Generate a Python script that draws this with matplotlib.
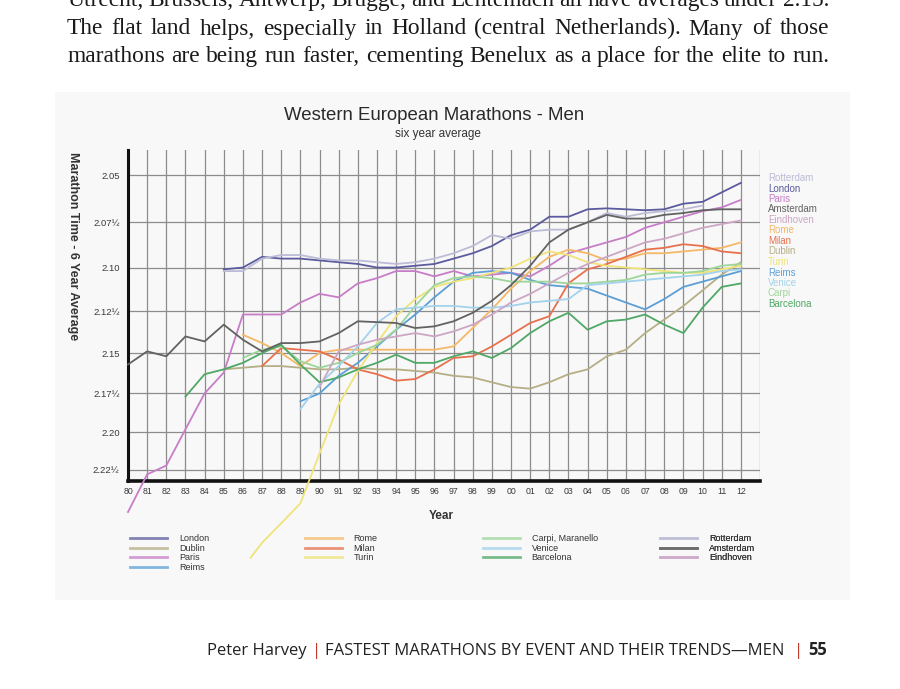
import matplotlib
matplotlib.use("Agg")
import matplotlib.pyplot as plt
from matplotlib import font_manager
from matplotlib.patches import Rectangle

W, H = 900, 689

# six-year average winning times, in minutes (2:10 = 130)
paris_years = list(range(1980, 2013))
paris = [145.4, 142.8, 142.2, 139.8, 137.5, 136.2, 132.7, 132.7, 132.7, 132.0,
         131.5, 131.7, 130.9, 130.6, 130.2, 130.2, 130.5, 130.2, 130.5, 130.4,
         130.3, 130.5, 129.9, 129.2, 128.9, 128.6, 128.3, 127.8, 127.5, 127.2,
         126.9, 126.7, 126.3]

amsterdam_years = list(range(1980, 2013))
amsterdam = [135.7, 134.9, 135.2, 134.0, 134.3, 133.3, 134.2, 134.9, 134.4, 134.4,
             134.3, 133.8, 133.1, 133.15, 133.2, 133.5, 133.4, 133.1, 132.6, 131.9,
             131.0, 129.9, 128.6, 127.9, 127.5, 127.1, 127.3, 127.3, 127.1, 127.0,
             126.85, 126.8, 126.8]

london_years = list(range(1985, 2013))
london = [130.1, 130.0, 129.4, 129.5, 129.5, 129.6, 129.7, 129.8, 130.0, 130.0,
          129.9, 129.8, 129.5, 129.2, 128.8, 128.2, 127.9, 127.2, 127.2, 126.8,
          126.75, 126.8, 126.85, 126.8, 126.5, 126.4, 125.9, 125.4]

rotterdam_years = list(range(1985, 2011))
rotterdam = [130.2, 130.2, 129.5, 129.3, 129.3, 129.5, 129.6, 129.6, 129.7, 129.8,
             129.7, 129.5, 129.2, 128.8, 128.2, 128.4, 128.0, 127.9, 127.9, 127.5,
             127.0, 127.2, 127.0, 126.9, 126.8, 126.6]

eindhoven_years = list(range(1990, 2013))
eindhoven = [137.1, 134.9, 134.5, 134.2, 134.0, 133.8, 134.0, 133.7, 133.3, 132.7,
             132.0, 131.5, 130.9, 130.3, 129.8, 129.4, 129.0, 128.6, 128.4, 128.1,
             127.8, 127.6, 127.4]

dublin_years = list(range(1985, 2013))
dublin = [136.0, 135.9, 135.8, 135.8, 135.9, 136.0, 136.0, 135.9, 136.0, 136.0,
          136.1, 136.2, 136.4, 136.5, 136.8, 137.1, 137.2, 136.8, 136.3, 136.0,
          135.2, 134.8, 133.8, 133.0, 132.2, 131.3, 130.4, 129.7]

milan_years = list(range(1987, 2013))
milan = [135.8, 134.7, 134.8, 134.9, 135.4, 136.0, 136.3, 136.7, 136.6, 136.0,
         135.3, 135.2, 134.6, 133.9, 133.2, 132.8, 130.9, 130.1, 129.8, 129.4,
         129.0, 128.9, 128.7, 128.8, 129.1, 129.2]

rome_years = list(range(1986, 2013))
rome = [133.9, 134.4, 135.0, 135.8, 135.0, 134.8, 134.8, 134.8, 134.8, 134.8,
        134.8, 134.6, 133.5, 132.4, 131.2, 130.2, 129.4, 129.0, 129.2, 129.6,
        129.5, 129.2, 129.2, 129.1, 129.0, 128.9, 128.6]

turin_years = [1986.4] + list(range(1987, 2013))
turin = [148.7, 147.6, 146.2, 144.8, 141.4, 138.2, 136.1, 134.4, 132.8, 131.8,
         131.1, 130.8, 130.6, 130.3, 130.0, 129.5, 129.1, 129.3, 129.7, 129.9,
         130.0, 130.1, 130.2, 130.3, 130.3, 130.1, 129.9]

reims_years = list(range(1989, 2013))
reims = [138.0, 137.5, 136.4, 135.6, 134.6, 133.6, 132.7, 131.7, 130.8, 130.3,
         130.2, 130.3, 130.7, 131.0, 131.1, 131.2, 131.6, 132.0, 132.4, 131.8,
         131.1, 130.8, 130.5, 130.2]

venice_years = list(range(1989, 2013))
venice = [138.5, 136.9, 135.8, 134.6, 133.2, 132.4, 132.3, 132.2, 132.2, 132.3,
          132.3, 132.2, 132.0, 131.9, 131.8, 131.0, 130.9, 130.8, 130.7, 130.6,
          130.5, 130.4, 130.2, 130.1]

carpi_years = list(range(1986, 2013))
carpi = [135.3, 134.8, 134.6, 135.5, 135.9, 135.6, 135.0, 134.5, 133.6, 132.2,
         131.0, 130.6, 130.5, 130.6, 130.8, 130.8, 130.8, 130.9, 130.9, 130.8,
         130.7, 130.4, 130.3, 130.3, 130.2, 129.9, 129.8]

barcelona_years = list(range(1983, 2013))
barcelona = [137.7, 136.3, 136.0, 135.6, 135.0, 134.5, 135.7, 136.8, 136.5, 136.0,
             135.6, 135.1, 135.6, 135.6, 135.2, 134.9, 135.3, 134.7, 133.8, 133.1,
             132.6, 133.6, 133.1, 133.0, 132.7, 133.3, 133.8, 132.3, 131.1, 130.9]

colors = {
    "London": "#5b5b9e", "Dublin": "#b5ae86", "Paris": "#c77dc7",
    "Reims": "#5b9fd6", "Rome": "#f4b866", "Milan": "#e8704d",
    "Turin": "#f0e37a", "Carpi, Maranello": "#9ed69a", "Venice": "#a2d2ec",
    "Barcelona": "#4fa865", "Rotterdam": "#bcbcd6", "Amsterdam": "#626262",
    "Eindhoven": "#cda6c6",
}

series = [
    ("London", london_years, london),
    ("Dublin", dublin_years, dublin),
    ("Paris", paris_years, paris),
    ("Reims", reims_years, reims),
    ("Rome", rome_years, rome),
    ("Milan", milan_years, milan),
    ("Turin", turin_years, turin),
    ("Carpi, Maranello", carpi_years, carpi),
    ("Venice", venice_years, venice),
    ("Barcelona", barcelona_years, barcelona),
    ("Rotterdam", rotterdam_years, rotterdam),
    ("Amsterdam", amsterdam_years, amsterdam),
    ("Eindhoven", eindhoven_years, eindhoven),
]

legend_cols = [["London", "Dublin", "Paris", "Reims"],
               ["Rome", "Milan", "Turin"],
               ["Carpi, Maranello", "Venice", "Barcelona"],
               ["Rotterdam", "Amsterdam", "Eindhoven"]]

side_labels = ["Rotterdam", "London", "Paris", "Amsterdam", "Eindhoven", "Rome",
               "Milan", "Dublin", "Turin", "Reims", "Venice", "Carpi", "Barcelona"]

year_ticks = list(range(1980, 2014))
year_labels = ["%02d" % (y % 100) for y in range(1980, 2013)] + [""]
time_ticks = [125, 127.5, 130, 132.5, 135, 137.5, 140, 142.5]
time_labels = ["2.05", "2.07½", "2.10", "2.12½", "2.15", "2.17½", "2.20", "2.22½"]

para = ["Utrecht, Brussels, Antwerp, Brugge, and Lentemach all have averages under 2.15.",
        "The flat land helps, especially in Holland (central Netherlands). Many of those",
        "marathons are being run faster, cementing Benelux as a place for the elite to run."]


def fx(px):
    return px / W


def fy(py):
    return 1 - py / H


installed = {f.name for f in font_manager.fontManager.ttflist}
sans = "Liberation Sans"
narrow = "Liberation Sans Narrow" if "Liberation Sans Narrow" in installed else "Open Sans"
plt.rcParams["font.family"] = [sans, "DejaVu Sans"]

fig = plt.figure(figsize=(W / 100, H / 100), dpi=100)
fig.patch.set_facecolor("white")
fig.patches.append(Rectangle((fx(55), fy(600)), fx(850) - fx(55), fy(92) - fy(600),
                             transform=fig.transFigure, facecolor="#f8f8f8",
                             edgecolor="none", zorder=-5))
renderer = fig.canvas.get_renderer()


def text_width(s, **kw):
    t = fig.text(0, 0, s, **kw)
    w = t.get_window_extent(renderer).width
    t.remove()
    return w


def justified(line, x0, x1, base, size, family, color):
    words = line.split()
    ts = [fig.text(0, fy(base), w, fontsize=size, family=family, color=color,
                   va="baseline", ha="left") for w in words]
    ws = [t.get_window_extent(renderer).width for t in ts]
    gap = (x1 - x0 - sum(ws)) / (len(ws) - 1)
    x = x0
    for t, w in zip(ts, ws):
        t.set_x(fx(x))
        x += w + gap


# body text above the chart (first line is cut by the page edge)
serif = "Liberation Serif"
nat = max(text_width(s, fontsize=16, family=serif) for s in para[1:])
body_size = 16 * 762 / nat * 0.99
for line, base in zip(para, [6, 34.5, 62]):
    justified(line, 67, 829, base, body_size, serif, "#1a1a1a")

# chart: the time axis is spaced like speed (1 / time)
ax = fig.add_axes([fx(128), fy(481), fx(760) - fx(128), fy(150) - fy(481)])
ax.set_facecolor("none")
ax.set_yscale("function", functions=(lambda m: -1.0 / m, lambda s: -1.0 / s))

lines = {}
for name, yrs, vals in series:
    ln, = ax.plot(yrs, vals, color=colors[name], lw=1.3, label=name,
                  clip_on=False, zorder=3, solid_joinstyle="round")
    lines[name] = ln

ax.set_xlim(1980, 2013)
ax.set_ylim(143.25, 123.7)
if ax.transData.transform((1990, 125))[1] < ax.transData.transform((1990, 142.5))[1]:
    ax.invert_yaxis()
ax.set_xticks(year_ticks)
ax.set_xticklabels(year_labels)
ax.set_yticks(time_ticks)
ax.set_yticklabels(time_labels)
ax.minorticks_off()
ax.tick_params(axis="both", length=0, labelcolor="#3a3a3a")
ax.tick_params(axis="y", pad=6, labelsize=6.8)
ax.tick_params(axis="x", pad=4, labelsize=6.3)
ax.grid(True, color="#8c8c8c", lw=0.9, zorder=1)
for side in ("top", "right"):
    ax.spines[side].set_visible(False)
ax.spines["left"].set_linewidth(2.2)
ax.spines["bottom"].set_linewidth(2.6)
ax.spines["left"].set_color("#111111")
ax.spines["bottom"].set_color("#111111")

fig.text(fx(434), fy(116), "Western European Marathons - Men", ha="center",
         va="center", fontsize=13.4, color="#2a2a2a")
fig.text(fx(438), fy(134), "six year average", ha="center", va="center",
         fontsize=8.5, color="#333333")
fig.text(fx(73), fy(246), "Marathon Time - 6 Year Average", rotation=-90,
         ha="center", va="center", fontsize=9, fontweight="bold", color="#333333")
fig.text(fx(441), fy(516), "Year", ha="center", va="center", fontsize=8.5,
         fontweight="bold", color="#333333")

# labels down the right-hand side
for i, name in enumerate(side_labels):
    key = "Carpi, Maranello" if name == "Carpi" else name
    fig.text(fx(768), fy(178 + i * 10.5), name, ha="left", va="center",
             fontsize=7, color=colors[key])

# four legend columns
for col, x0 in zip(legend_cols, [130, 305, 483, 660]):
    leg = ax.legend([lines[n] for n in col], col, loc="upper left",
                    bbox_to_anchor=(fx(x0), fy(534)), bbox_transform=fig.transFigure,
                    frameon=False, fontsize=6.5, handlelength=4.1,
                    handletextpad=1.3, labelspacing=0.08, borderpad=0,
                    borderaxespad=0)
    for t in leg.get_texts():
        t.set_color("#333333")
    for h in leg.legend_handles:
        h.set_linewidth(2.0)
        h.set_alpha(0.75)
    ax.add_artist(leg)

# footer
fsize = 12 * 459 / text_width("FASTEST MARATHONS BY EVENT AND THEIR TRENDS—MEN",
                              fontsize=12, family=narrow)
foot = dict(fontsize=fsize, family=narrow, va="baseline", ha="left")
fig.text(fx(207), fy(655), "Peter Harvey", color="#222222", **foot)
fig.text(fx(312), fy(655), "|", color="#c0392b", **foot)
fig.text(fx(325), fy(655), "FASTEST MARATHONS BY EVENT AND THEIR TRENDS—MEN",
         color="#222222", **foot)
fig.text(fx(794), fy(655), "|", color="#c0392b", **foot)
fig.text(fx(808), fy(655), "55", color="#222222", fontweight="bold", **foot)

fig.savefig("out.png", dpi=100)
